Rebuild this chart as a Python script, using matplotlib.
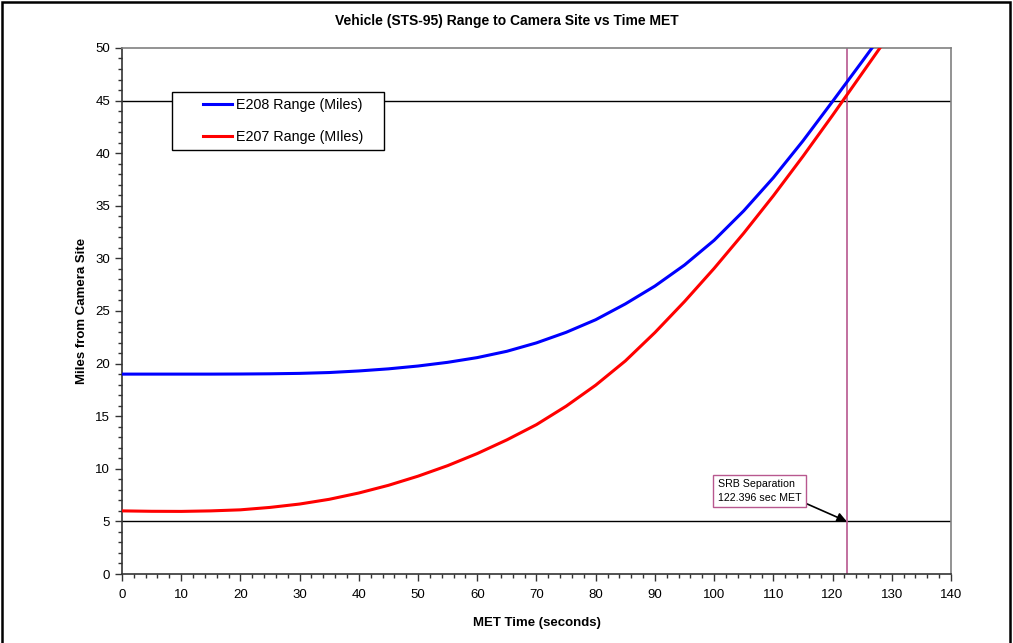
import matplotlib
matplotlib.use("Agg")
import matplotlib.pyplot as plt
from matplotlib.ticker import MultipleLocator
from matplotlib.patches import Rectangle

plt.rcParams['font.family'] = ['Liberation Sans', 'DejaVu Sans']

met_time = [0, 5, 10, 15, 20, 25, 30, 35, 40, 45, 50, 55, 60, 65, 70, 75, 80,
            85, 90, 95, 100, 105, 110, 115, 120, 125, 130]
e208_range = [19.0, 19.0, 19.0, 19.0, 19.01, 19.03, 19.07, 19.15, 19.3, 19.5,
              19.77, 20.12, 20.57, 21.17, 21.97, 22.97, 24.17, 25.67, 27.37,
              29.37, 31.72, 34.52, 37.67, 41.17, 44.92, 48.72, 52.57]
e207_range = [6.0, 5.96, 5.95, 6.0, 6.1, 6.33, 6.65, 7.1, 7.7, 8.43, 9.3,
              10.3, 11.45, 12.75, 14.2, 15.95, 17.95, 20.25, 22.95, 25.9,
              29.05, 32.4, 35.95, 39.7, 43.6, 47.6, 51.6]
srb_sep = 122.396
ref_lines = [5, 45]

fig = plt.figure(figsize=(10.13, 6.43), dpi=100)
ax = fig.add_axes([0.1204, 0.1073, 0.8184, 0.8181])

for y in ref_lines:
    ax.axhline(y, color='black', lw=1.0, zorder=1)

ax.plot(met_time, e208_range, color='#0000ff', lw=2.2, label='E208 Range (Miles)', zorder=3)
ax.plot(met_time, e207_range, color='#ff0000', lw=2.2, label='E207 Range (MIles)', zorder=3)
ax.axvline(srb_sep, color='#b8588f', lw=1.2, zorder=2)

ax.set_xlim(0, 140)
ax.set_ylim(0, 50)
ax.xaxis.set_major_locator(MultipleLocator(10))
ax.xaxis.set_minor_locator(MultipleLocator(2))
ax.yaxis.set_major_locator(MultipleLocator(5))
ax.yaxis.set_minor_locator(MultipleLocator(1))
ax.tick_params(which='major', direction='out', length=5, width=1, labelsize=9.5,
               colors='#333333', labelcolor='black')
ax.tick_params(which='minor', direction='out', length=3, width=1, colors='#333333')
ax.tick_params(axis='x', pad=6)

for s in ['top', 'right']:
    ax.spines[s].set_color('#808080')
    ax.spines[s].set_linewidth(1.2)
for s in ['left', 'bottom']:
    ax.spines[s].set_color('#333333')
    ax.spines[s].set_linewidth(1.2)

ax.set_xlabel('MET Time (seconds)', fontsize=9.5, fontweight='bold', labelpad=11)
ax.set_ylabel('Miles from Camera Site', fontsize=9.5, fontweight='bold', labelpad=5)
fig.text(0.5, 0.968, 'Vehicle (STS-95) Range to Camera Site vs Time MET',
         ha='center', va='center', fontsize=10, fontweight='bold')

# legend box (drawn in the axes, below the legend entries)
legbox = Rectangle((172 / 1013, 1 - 150 / 643), 212 / 1013, 58 / 643,
                   transform=fig.transFigure, fc='white', ec='black',
                   lw=1.0, zorder=4, clip_on=False)
ax.add_patch(legbox)
leg = ax.legend(loc='center left', bbox_to_anchor=(203 / 1013, 1 - 121 / 643),
                bbox_transform=fig.transFigure, frameon=False, fontsize=10.3,
                handlelength=2.0, borderpad=0, labelspacing=1.3,
                handletextpad=0.3, borderaxespad=0)
leg.set_zorder(6)

ax.annotate('SRB Separation\n122.396 sec MET', xy=(srb_sep, 5), xytext=(100.6, 7.9),
            fontsize=7.7, ha='left', va='center', linespacing=1.45,
            bbox=dict(boxstyle='square,pad=0.42', fc='white', ec='#b8588f', lw=1),
            arrowprops=dict(arrowstyle='-|>', color='black', lw=1.2,
                            shrinkA=0, shrinkB=0, mutation_scale=14,
                            relpos=(0.92, 0.18)),
            zorder=5)

fig.add_artist(Rectangle((0.002, -0.02), 0.995, 1.017, transform=fig.transFigure,
                         fill=False, ec='black', lw=1.8))

fig.savefig('out.png', dpi=100)
